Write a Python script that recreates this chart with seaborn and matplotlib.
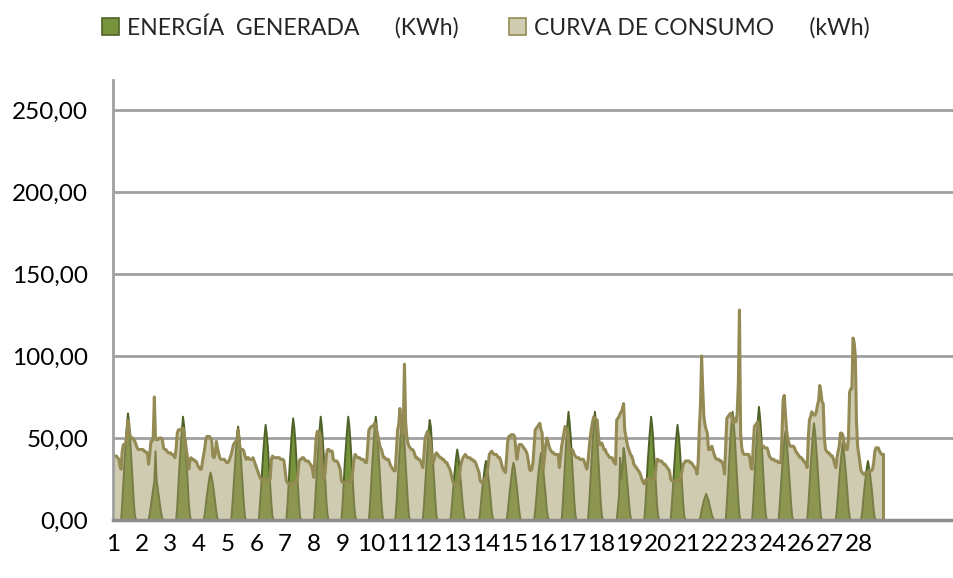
import numpy as np
import seaborn as sns
import matplotlib.pyplot as plt
from matplotlib.patches import Patch
from matplotlib.ticker import FuncFormatter

# kWh por hora, una fila por dia (h0..h23)
consumo = [
    [40,39,39,39,38,37,33,31,42,46,46,47,52,61,55,51,50,50,49,48,46,44,43,43],
    [43,43,43,42,42,41,41,34,40,48,48,50,75,49,49,49,50,50,50,49,44,43,43,42],
    [41,41,41,40,40,39,38,44,53,55,55,55,56,56,52,48,42,38,31,36,38,37,37,36],
    [36,35,33,32,31,31,36,40,44,50,51,51,51,50,49,39,38,40,48,44,41,38,37,37],
    [37,37,36,35,35,36,38,40,43,46,47,48,49,55,47,43,43,43,42,39,37,38,38,37],
    [37,37,38,36,34,32,30,28,26,25,25,25,25,25,24,24,24,25,37,39,38,38,38,38],
    [38,38,37,37,37,36,30,24,23,22,22,22,22,22,23,23,24,27,35,37,37,38,38,37],
    [36,36,36,35,34,33,30,26,38,50,54,54,53,50,35,25,25,30,40,43,43,42,42,42],
    [37,36,36,36,35,33,31,24,23,23,23,23,23,23,24,24,25,30,37,40,39,38,38,38],
    [37,37,37,36,35,35,45,55,56,57,57,58,59,58,54,51,47,44,43,40,38,38,37,37],
    [37,35,33,32,31,30,30,42,55,58,68,60,53,56,95,60,51,47,45,44,43,43,42,40],
    [38,38,37,37,36,34,32,40,50,52,54,52,50,45,38,35,37,40,41,40,39,38,38,37],
    [37,36,35,35,33,32,30,27,24,22,22,22,22,22,28,33,36,38,39,40,39,38,38,38],
    [37,37,36,36,35,33,31,29,24,23,23,24,25,26,28,34,40,41,42,41,40,40,40,39],
    [38,38,36,33,31,30,29,38,48,51,51,52,52,52,51,44,37,42,46,46,46,45,44,43],
    [42,40,36,31,30,31,35,45,55,56,57,58,59,55,53,31,38,45,50,48,45,43,42,41],
    [41,40,40,40,40,32,38,45,49,53,57,56,55,48,43,43,43,42,40,39,38,38,38,37],
    [37,37,37,35,33,31,36,44,51,56,60,63,62,61,61,52,46,46,47,45,43,43,41,40],
    [39,38,38,38,36,35,34,61,62,63,65,66,68,71,55,51,47,44,42,40,39,37,34,33],
    [32,31,30,29,27,25,23,22,24,25,25,25,25,25,25,25,25,30,37,37,36,36,36,35],
    [34,34,33,32,31,30,25,24,24,24,24,24,24,24,25,27,30,34,35,36,36,36,36,35],
    [35,34,33,32,31,28,35,55,70,100,80,63,58,55,53,43,43,44,45,42,40,38,37,37],
    [37,36,36,35,33,28,45,62,63,64,65,64,60,59,62,60,65,83,128,53,44,41,40,40],
    [40,40,40,38,32,31,45,57,58,59,60,55,48,46,45,45,44,44,44,42,39,38,37,37],
    [37,36,36,36,35,35,35,50,73,76,65,55,50,47,45,45,45,45,44,42,41,40,39,38],
    [38,37,36,35,34,32,50,61,63,66,65,64,64,66,70,73,82,78,72,71,50,43,42,41],
    [41,40,39,39,37,34,32,38,42,45,53,53,52,48,45,43,43,50,78,80,80,111,108,100],
    [60,45,40,35,30,29,28,28,29,29,29,30,30,30,31,35,42,44,44,44,42,41,40,40],
]

generada = [
    [0,0,0,0,0,0,0,0, 10,23,36,47,57,65,60,49,37,25,12,3, 0,0,0,0],
    [0,0,0,0,0,0,0,0, 4,9,14,19,24,42,24,19,14,9,4,1, 0,0,0,0],
    [0,0,0,0,0,0,0,0, 9,22,35,45,55,63,57,47,36,24,11,3, 0,0,0,0],
    [0,0,0,0,0,0,0,0, 4,10,16,21,26,29,26,22,17,11,5,1, 0,0,0,0],
    [0,0,0,0,0,0,0,0, 9,20,31,41,50,57,51,43,32,22,10,2, 0,0,0,0],
    [0,0,0,0,0,0,0,0, 9,20,32,42,51,58,52,44,33,22,10,2, 0,0,0,0],
    [0,0,0,0,0,0,0,0, 9,22,34,45,55,62,56,47,35,24,11,2, 0,0,0,0],
    [0,0,0,0,0,0,0,0, 9,22,35,45,55,63,57,47,36,24,11,3, 0,0,0,0],
    [0,0,0,0,0,0,0,0, 9,22,35,45,55,63,57,47,36,24,11,3, 0,0,0,0],
    [0,0,0,0,0,0,0,0, 10,23,35,46,56,63,56,46,35,23,10,2, 0,0,0,0],
    [0,0,0,0,0,0,0, 9,22,34,45,55,62,56,47,35,24,11,2, 0,0,0,0,0],
    [0,0,0,0,0,0,0, 9,21,34,44,54,61,57,46,35,23,11,2, 0,0,0,0,0],
    [0,0,0,0,0,0,0, 6,15,24,31,38,43,39,32,25,16,8,2, 0,0,0,0,0],
    [0,0,0,0,0,0,0,0, 5,13,20,26,32,36,32,27,21,14,6,1, 0,0,0,0],
    [0,0,0,0,0,0,0,0, 5,12,19,25,31,35,32,26,20,13,6,1, 0,0,0,0],
    [0,0,0,0,0,0,0,0, 6,14,23,30,36,41,37,31,23,16,7,2, 0,0,0,0],
    [0,0,0,0,0,0,0,0, 10,23,36,48,58,66,59,50,38,25,12,3, 0,0,0,0],
    [0,0,0,0,0,0,0, 10,23,36,48,58,66,59,50,38,25,12,3, 0,0,0,0,0],
    [0,0,0,0,0,0,0,0, 7,15,38,25,32,44,40,33,25,17,8,2, 0,0,0,0],
    [0,0,0,0,0,0,0,0, 9,22,35,45,55,63,57,47,36,24,11,3, 0,0,0,0],
    [0,0,0,0,0,0,0, 9,20,32,42,51,58,52,44,33,22,10,2, 0,0,0,0,0],
    [0,0,0,0,0,0,0,0, 2,6,9,12,14,16,14,12,9,6,3,1, 0,0,0,0],
    [0,0,0,0,0,0,0, 10,23,36,48,58,66,59,50,38,25,12,3, 0,0,0,0,0],
    [0,0,0,0,0,0, 10,24,38,50,61,69,62,52,39,26,12,3, 0,0,0,0,0,0],
    [0,0,0,0,0, 8,19,30,39,48,54,49,41,31,21,10,2, 0,0,0,0,0,0,0],
    [0,0,0,0,0,0, 9,21,32,42,52,59,53,44,34,22,11,2, 0,0,0,0,0,0],
    [0,0,0,0,0,0,0, 7,16,26,34,41,47,42,35,27,18,8,2, 0,0,0,0,0],
    [0,0,0,0,0, 5,13,20,26,32,36,32,27,21,14,6,1, 0,0,0,0,0,0,0],
]

etiquetas_x = ["1", "2", "3", "4", "5", "6", "7", "8", "9", "10", "11", "12", "13", "14",
               "15", "16", "17", "18", "19", "20", "21", "22", "23", "24", "26", "27", "28"]
valores_y = [0, 50, 100, 150, 200, 250]

serie_gen = "ENERGÍA  GENERADA      (KWh)"
serie_con = "CURVA DE CONSUMO      (kWh)"

cons = np.array(consumo, dtype=float).ravel()
gen = np.array(generada, dtype=float).ravel()
horas = np.arange(len(cons))

sns.set_theme(style="white")
plt.rcParams["font.family"] = ["Lato", "DejaVu Sans"]

verde = "#77933C"
verde_osc = "#4F6228"
beige_capa = (161/255, 153/255, 101/255, 0.5)
beige_borde = "#948A54"
gris = "#A0A0A0"

fig = plt.figure(figsize=(9.54, 5.78), dpi=100)
ax = fig.add_axes([0.1185, 0.1003, 0.8815, 0.7613])

for v in valores_y[1:]:
    ax.axhline(v, color=gris, lw=2, zorder=0.5)

ax.fill_between(horas, 0, gen, facecolor=verde, edgecolor="none", zorder=2)
sns.lineplot(x=horas, y=gen, ax=ax, color=verde_osc, lw=1.4, zorder=2.2)
ax.fill_between(horas, 0, cons, facecolor=beige_capa, edgecolor="none", zorder=3)
sns.lineplot(x=horas, y=cons, ax=ax, color=beige_borde, lw=2.2, zorder=4)
ax.plot([horas[-1], horas[-1]], [0, cons[-1]], color=beige_borde, lw=2.2, zorder=4)

ax.set_xlim(0, 733)
ax.set_ylim(0, 268.3)
ax.set_yticks(valores_y)
ax.yaxis.set_major_formatter(FuncFormatter(lambda v, p: f"{v:.2f}".replace(".", ",")))
ax.set_xticks(np.arange(len(etiquetas_x)) * 25)
ax.set_xticklabels(etiquetas_x)
ax.tick_params(axis="both", length=0, labelsize=17.5, colors="black")
ax.tick_params(axis="y", pad=18)
ax.tick_params(axis="x", pad=10)
ax.set_xlabel("")
ax.set_ylabel("")

for s in ["top", "right"]:
    ax.spines[s].set_visible(False)
ax.spines["left"].set_color(gris)
ax.spines["left"].set_linewidth(2)
ax.spines["bottom"].set_color("#8C8C8C")
ax.spines["bottom"].set_linewidth(2.5)
ax.spines["left"].set_zorder(5)
ax.spines["bottom"].set_zorder(5)

manejadores = [
    Patch(facecolor=verde, edgecolor=verde_osc, linewidth=1.2),
    Patch(facecolor="#D0CCB2", edgecolor=beige_borde, linewidth=1.2),
]
fig.legend(manejadores, [serie_gen, serie_con], loc="center",
           bbox_to_anchor=(0.509, 0.955), ncol=2, frameon=False, fontsize=16.5,
           handlelength=0.75, handleheight=0.75, handletextpad=0.35, columnspacing=2.2)

fig.savefig("out.png", dpi=100)
